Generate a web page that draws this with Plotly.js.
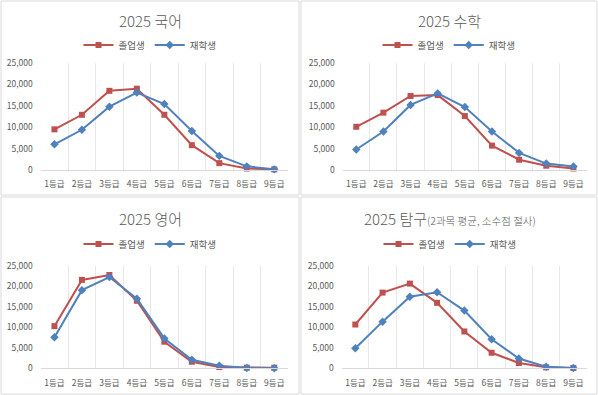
<!DOCTYPE html>
<html><head><meta charset="utf-8">
<script src="https://cdn.plot.ly/plotly-3.0.1.min.js"></script>
<style>html,body{margin:0;padding:0;background:#fff}#chart{width:598px;height:395px}</style>
</head><body><div id="chart"></div>
<script>
const grades = ['1등급','2등급','3등급','4등급','5등급','6등급','7등급','8등급','9등급'];
const seriesNames = ['졸업생','재학생'];
const titles = ['2025 국어','2025 수학','2025 영어','2025 탐구<span style="font-size:10.5px">(2과목 평균, 소수점 절사)</span>'];
const korGrad  = [9500,12900,18500,19000,12900,5800,1600,350,150];
const korCur   = [6000,9400,14800,18100,15400,9100,3300,850,150];
const mathGrad = [10100,13400,17300,17500,12600,5700,2400,1000,350];
const mathCur  = [4800,9000,15200,17900,14700,9000,4000,1500,800];
const engGrad  = [10300,21600,22800,16500,6500,1600,300,150,150];
const engCur   = [7600,19100,22300,17000,7300,2100,650,80,30];
const inqGrad  = [10700,18500,20700,16000,9000,3800,1300,250,80];
const inqCur   = [4900,11400,17500,18600,14100,7100,2400,400,80];

const panels = [[korGrad,korCur],[mathGrad,mathCur],[engGrad,engCur],[inqGrad,inqCur]];
const W=598,H=395;
const FONT='"Malgun Gothic","Noto Sans CJK KR",sans-serif';
const TXT='#595959', GRID='#e8e8e8', BOX='#d9d9d9';
const RED='#C0504D', BLUE='#4F81BD';
const geo = [
  {l:40.7,r:288,t:63,b:170,ty:20,ly:45,cx:150,box:[1,1,299,195]},
  {l:342.7,r:587,t:63,b:170,ty:20,ly:45,cx:449,box:[301,1,597,195]},
  {l:40.7,r:288,t:266,b:368.3,ty:219,ly:244,cx:150,box:[1,197,299,394]},
  {l:341.7,r:587,t:266,b:368.3,ty:219,ly:244,cx:450,box:[301,197,597,394]}
];
const traces=[]; const layout={width:W,height:H,margin:{l:0,r:0,t:0,b:0},paper_bgcolor:'#fff',plot_bgcolor:'rgba(0,0,0,0)',
  font:{family:FONT,color:TXT},annotations:[],shapes:[],showlegend:true};
panels.forEach((p,i)=>{
  const n=i+1, xa='x'+(n>1?n:''), ya='y'+(n>1?n:''), lg='legend'+(n>1?n:'');
  const g=geo[i];
  traces.push({x:grades,y:p[0],name:seriesNames[0],type:'scatter',mode:'lines+markers',xaxis:xa,yaxis:ya,legend:lg,
    line:{color:RED,width:2},marker:{symbol:'square',size:6,color:RED},cliponaxis:false});
  traces.push({x:grades,y:p[1],name:seriesNames[1],type:'scatter',mode:'lines+markers',xaxis:xa,yaxis:ya,legend:lg,
    line:{color:BLUE,width:2},marker:{symbol:'diamond',size:6.5,color:BLUE},cliponaxis:false});
  layout['xaxis'+(n>1?n:'')]={domain:[g.l/W,g.r/W],anchor:ya,type:'category',range:[-0.5,8.5],tickson:'boundaries',
    showgrid:true,gridcolor:GRID,gridwidth:1,showline:true,linecolor:BOX,linewidth:1,ticks:'',tickangle:0,
    tickfont:{size:8.5,color:TXT,family:FONT},ticklabelstandoff:6,fixedrange:true,zeroline:false,automargin:false};
  layout['yaxis'+(n>1?n:'')]={domain:[1-g.b/H,1-g.t/H],anchor:xa,range:[0,25000],dtick:5000,tickformat:',d',
    showgrid:false,zeroline:false,showline:false,ticks:'',tickfont:{size:8.5,color:TXT,family:FONT},ticklabelstandoff:7,fixedrange:true};
  layout[lg]={orientation:'h',x:g.cx/W,xanchor:'center',y:1-g.ly/H,yanchor:'middle',font:{size:9.5,color:TXT,family:FONT},
    bgcolor:'rgba(0,0,0,0)',itemwidth:30,tracegroupgap:0,itemclick:false};
  layout.annotations.push({text:titles[i],xref:'paper',yref:'paper',x:g.cx/W,y:1-g.ty/H,xanchor:'center',yanchor:'middle',
    showarrow:false,font:{size:15,color:TXT,family:FONT,weight:300}});
  const b=g.box;
  layout.shapes.push({type:'rect',xref:'paper',yref:'paper',x0:b[0]/W,x1:b[2]/W,y0:1-b[3]/H,y1:1-b[1]/H,line:{color:BOX,width:1},layer:'below'});
});
Plotly.newPlot('chart',traces,layout,{displayModeBar:false,staticPlot:true});
</script></body></html>
